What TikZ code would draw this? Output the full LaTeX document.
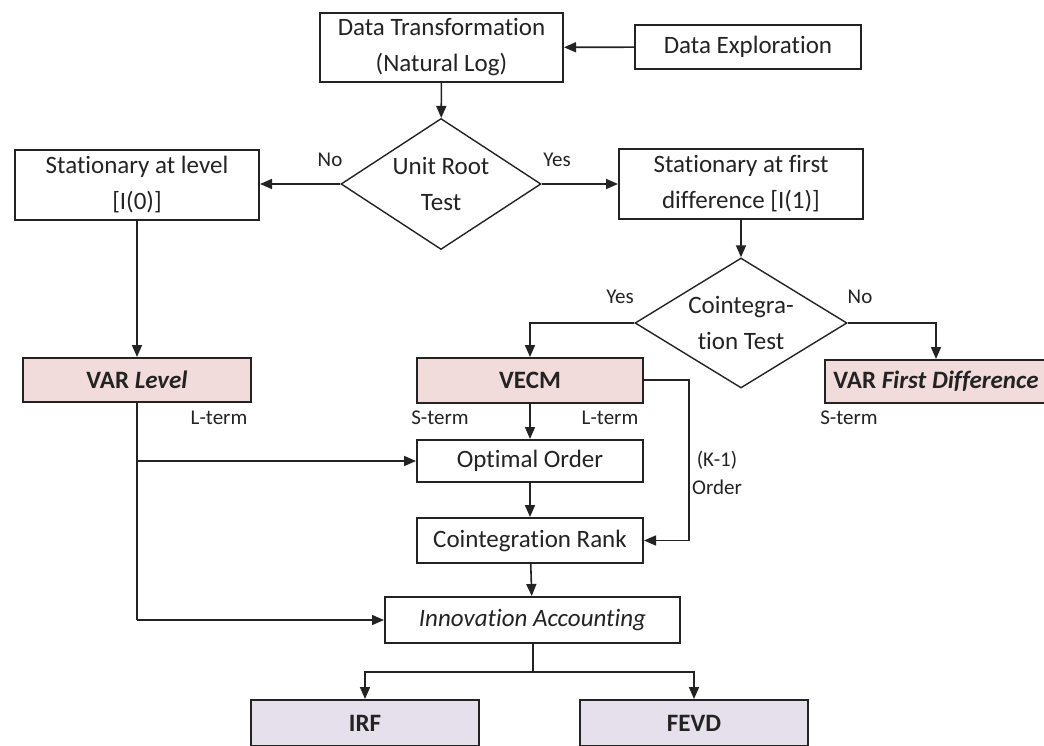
\documentclass[tikz,border=0pt]{standalone}
\usepackage{fontspec}
\setmainfont{Carlito}[Ligatures=NoCommon]
\usetikzlibrary{shapes.geometric,arrows.meta}
\definecolor{pinkfill}{RGB}{242,220,219}
\definecolor{lavfill}{RGB}{229,224,236}
\definecolor{ink}{RGB}{35,35,35}
\begin{document}
\begin{tikzpicture}[x=1pt,y=-1pt,
  box/.style={draw=ink,line width=2pt,rectangle,inner sep=0pt,align=center,text=ink,font=\fontsize{25}{36}\selectfont},
  pinkbox/.style={box,fill=pinkfill},
  lavbox/.style={box,fill=lavfill},
  decision/.style={draw=ink,line width=1.4pt,diamond,inner sep=0pt,align=center,text=ink,font=\fontsize{25}{36}\selectfont},
  lbl/.style={text=ink,font=\fontsize{21}{28}\selectfont,inner sep=0pt},
  conn/.style={draw=ink,line width=1.6pt},
  arr/.style={conn,-{Triangle[length=12pt,width=10pt]}}
]
\useasboundingbox (0,0) rectangle (1044,746);
\fill[white] (0,0) rectangle (1044,746);

\node[box,minimum width=243pt,minimum height=69pt] (dt) at (441.5,47.5) {Data Transformation\\(Natural Log)};
\node[box,minimum width=226pt,minimum height=44pt] (de) at (748,47) {Data Exploration};
\node[decision,minimum width=200pt,minimum height=131pt,aspect=1.53] (ur) at (441,184) {Unit Root\\Test};
\node[box,minimum width=244pt,minimum height=70pt] (sl) at (137,185) {Stationary at level\\{[I(0)]}};
\node[box,minimum width=244pt,minimum height=70pt] (sfd) at (741,184) {Stationary at first\\difference [I(1)]};
\node[decision,minimum width=212pt,minimum height=130pt,aspect=1.63] (ct) at (741,323) {Cointegra-\\tion Test};
\node[pinkbox,minimum width=228pt,minimum height=44pt] (varl) at (137,380) {\textbf{VAR \textit{Level}}};
\node[pinkbox,minimum width=226pt,minimum height=45pt] (vecm) at (530,380.5) {\textbf{VECM}};
\node[pinkbox,minimum width=222pt,minimum height=43pt] (varfd) at (936,381.5) {\textbf{VAR \textit{First Difference}}};
\node[box,minimum width=226pt,minimum height=42pt] (oo) at (530,461) {Optimal Order};
\node[box,minimum width=226pt,minimum height=45pt] (cr) at (530,540.5) {Cointegration Rank};
\node[box,minimum width=295pt,minimum height=46pt] (ia) at (532.5,620) {\textit{Innovation Accounting}};
\node[lavbox,minimum width=228pt,minimum height=46pt] (irf) at (365,723) {\textbf{IRF}};
\node[lavbox,minimum width=228pt,minimum height=46pt] (fevd) at (694,723) {\textbf{FEVD}};

\node[lbl] (no1) at (330,160) {No};
\node[lbl] (yes1) at (557,160) {Yes};
\node[lbl] (yes2) at (620,297) {Yes};
\node[lbl] (no2) at (860,297) {No};
\node[lbl] (lt1) at (219,418) {L-term};
\node[lbl] (st1) at (440,418) {S-term};
\node[lbl] (lt2) at (610,418) {L-term};
\node[lbl] (st2) at (849,418) {S-term};
\node[lbl] (k1) at (717,460) {(K-1)};
\node[lbl] (ord) at (717,487) {Order};

\coordinate (kc) at (689,380);
\coordinate (split) at (533,672);

\draw[arr] (de) -- (dt);
\draw[arr] (dt) -- (ur);
\draw[arr] (ur.west) -- (sl.east |- ur.west);
\draw[arr] (ur.east) -- (sfd.west |- ur.east);
\draw[arr] (sfd.south -| ct.north) -- (ct.north);
\draw[arr] (ct.west) -| (vecm.north);
\draw[arr] (ct.east) -| (varfd.north);
\draw[arr] (sl.south -| varl.north) -- (varl.north);
\draw[conn] (varl.south) -- (varl.south |- ia.west);
\draw[arr] (varl.south |- ia.west) -- (ia.west);
\draw[arr] (varl.south |- oo.west) -- (oo.west);
\draw[arr] (vecm) -- (oo);
\draw[arr] (oo) -- (cr);
\draw[arr] (cr) -- (ia);
\draw[arr] (vecm.east |- kc) -- (kc) |- (cr.east);
\draw[conn] (ia.south -| split) -- (split);
\draw[arr] (split) -| (irf.north);
\draw[arr] (split) -| (fevd.north);
\end{tikzpicture}
\end{document}
